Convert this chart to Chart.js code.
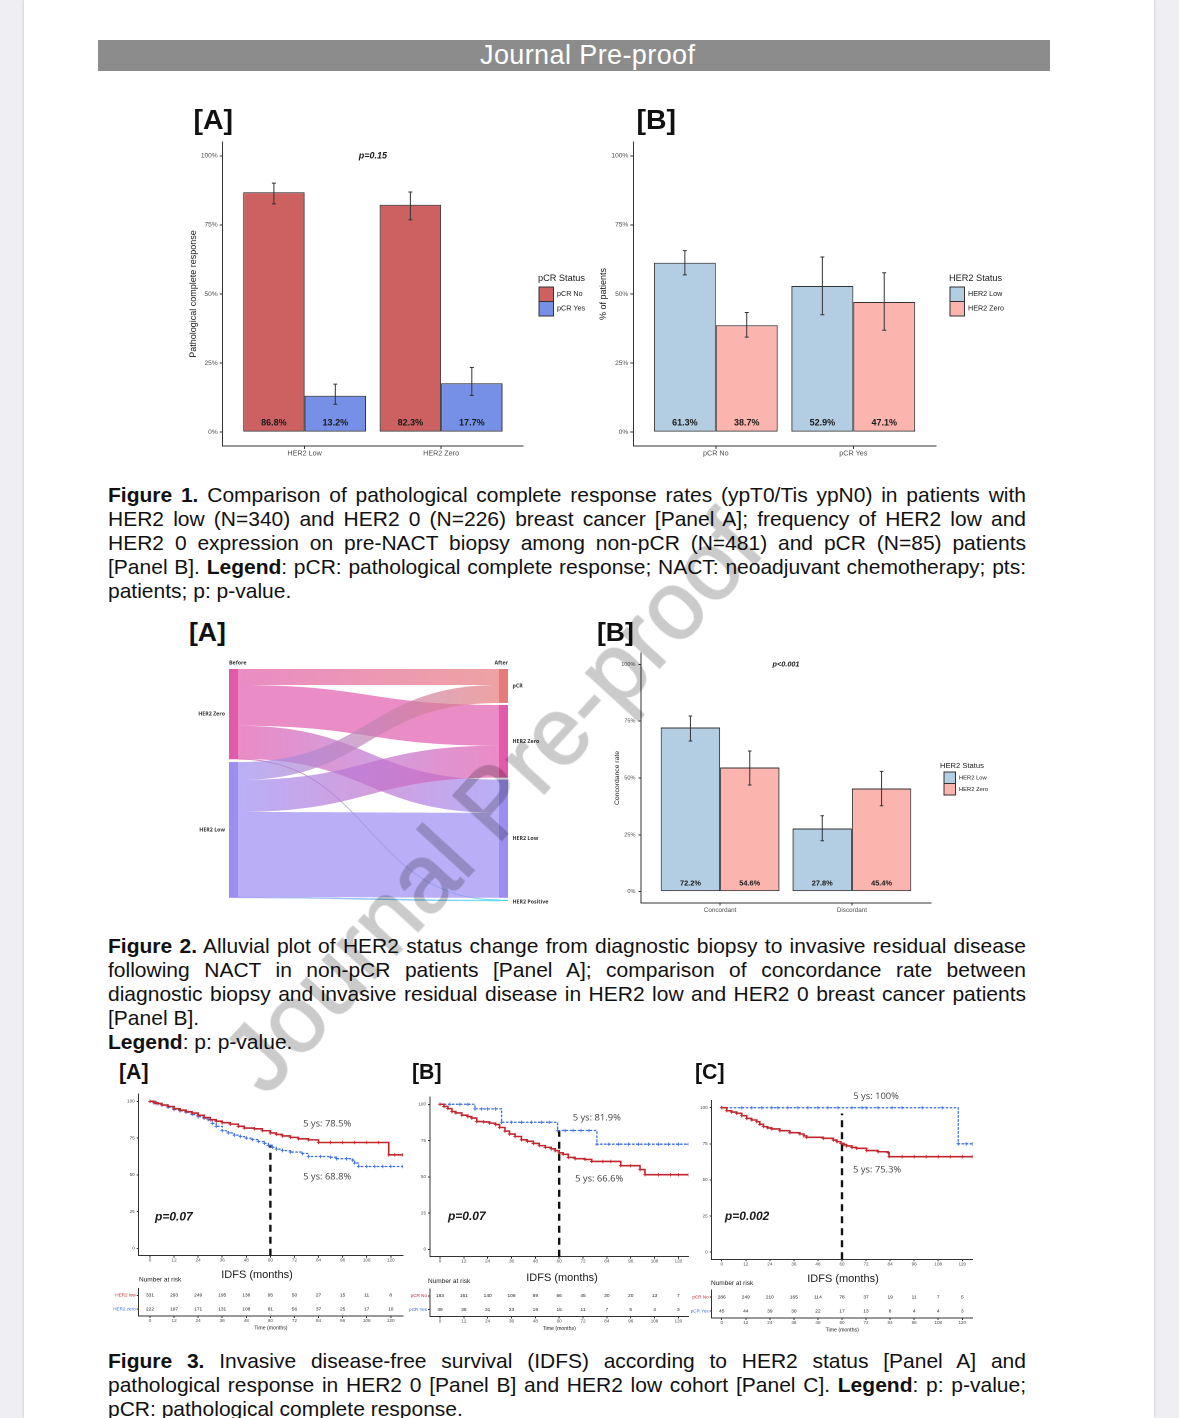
<!DOCTYPE html>
<html>
<head>
<meta charset="utf-8">
<script src="https://cdn.jsdelivr.net/npm/chart.js@4.4.1/dist/chart.umd.min.js"></script>
<style>
html, body { margin: 0; padding: 0; }
body { width: 1179px; height: 1418px; overflow: hidden; position: relative; background: #efeef3;
       font-family: "Liberation Sans", Arial, sans-serif; color: #111; }
#page { position: absolute; left: 24px; top: 0; width: 1130px; height: 1418px; background: #fff;
        box-shadow: 0 0 3px rgba(0,0,0,0.2); }
canvas { position: absolute; }
.hdr { position: absolute; left: 98px; top: 40px; width: 952px; height: 31px; background: #8c8c8c; }
.hdr span { position: absolute; left: 382px; top: 0; font-size: 27px; line-height: 31px; color: #fff; letter-spacing: 0.4px; white-space: nowrap; }
.pl { position: absolute; font-weight: bold; line-height: 1; white-space: nowrap; color: #111; }
.cap { position: absolute; left: 108px; width: 918px; font-size: 21px; line-height: 24px; }
.cap div { white-space: nowrap; }
.cap .j { text-align: justify; text-align-last: justify; }
.wm { position: absolute; left: 492px; top: 802px; font-size: 96px; line-height: 1; white-space: nowrap;
      color: #cbcbcb; -webkit-text-stroke: 1.5px #cbcbcb; mix-blend-mode: multiply;
      transform: translate(-50%, -50%) rotate(-47.5deg); pointer-events: none; }
</style>
</head>
<body>
<div id="page"></div>
<div class="hdr"><span>Journal Pre-proof</span></div>
<div id="charts"></div>

<div class="pl" style="left:193.5px;top:104.7px;font-size:28.5px">[A]</div>
<div class="pl" style="left:636.5px;top:104.7px;font-size:28.5px">[B]</div>

<div class="cap" style="top:482.5px">
<div class="j"><b>Figure 1.</b> Comparison of pathological complete response rates (ypT0/Tis ypN0) in patients with</div>
<div class="j">HER2 low (N=340) and HER2 0 (N=226) breast cancer [Panel A]; frequency of HER2 low and</div>
<div class="j">HER2 0 expression on pre-NACT biopsy among non-pCR (N=481) and pCR (N=85) patients</div>
<div class="j">[Panel B]. <b>Legend</b>: pCR: pathological complete response; NACT: neoadjuvant chemotherapy; pts:</div>
<div>patients; p: p-value.</div>
</div>

<div class="pl" style="left:189px;top:619px;font-size:26.6px">[A]</div>
<div class="pl" style="left:597px;top:619px;font-size:26.6px">[B]</div>

<div class="cap" style="top:934px">
<div class="j"><b>Figure 2.</b> Alluvial plot of HER2 status change from diagnostic biopsy to invasive residual disease</div>
<div class="j">following NACT in non-pCR patients [Panel A]; comparison of concordance rate between</div>
<div class="j">diagnostic biopsy and invasive residual disease in HER2 low and HER2 0 breast cancer patients</div>
<div>[Panel B].</div>
<div><b>Legend</b>: p: p-value.</div>
</div>

<div class="pl" style="left:119px;top:1061.5px;font-size:21.3px">[A]</div>
<div class="pl" style="left:412px;top:1061.5px;font-size:21.3px">[B]</div>
<div class="pl" style="left:695px;top:1061.5px;font-size:21.3px">[C]</div>

<div class="cap" style="top:1349px">
<div class="j"><b>Figure 3.</b> Invasive disease-free survival (IDFS) according to HER2 status [Panel A] and</div>
<div class="j">pathological response in HER2 0 [Panel B] and HER2 low cohort [Panel C]. <b>Legend</b>: p: p-value;</div>
<div>pCR: pathological complete response.</div>
</div>

<div class="wm">Journal Pre-proof</div>

<script>
// ---------- Figure 1 data ----------
const pctTicks = [0, 25, 50, 75, 100];

const f1aCategories = ['HER2 Low', 'HER2 Zero'];
const f1aSeries = ['pCR No', 'pCR Yes'];
const f1aPcrNo = [86.8, 82.3];
const f1aPcrNoLow = [82.6, 76.8];
const f1aPcrNoHigh = [90.1, 86.9];
const f1aPcrYes = [13.2, 17.7];
const f1aPcrYesLow = [10.1, 13.3];
const f1aPcrYesHigh = [17.4, 23.4];

const f1bCategories = ['pCR No', 'pCR Yes'];
const f1bSeries = ['HER2 Low', 'HER2 Zero'];
const f1bLow = [61.3, 52.9];
const f1bLowLow = [56.9, 42.5];
const f1bLowHigh = [65.7, 63.4];
const f1bZero = [38.7, 47.1];
const f1bZeroLow = [34.4, 36.9];
const f1bZeroHigh = [43.3, 57.7];

// ---------- Figure 2 data ----------
const alluvialBefore = ['HER2 Zero', 'HER2 Low'];
const alluvialAfter = ['pCR', 'HER2 Zero', 'HER2 Low', 'HER2 Positive'];
// patients going from each "before" status to each "after" status
const flowsFromZero = [40, 102, 83, 1];
const flowsFromLow = [45, 80, 213, 2];

const f2bCategories = ['Concordant', 'Discordant'];
const f2bSeries = ['HER2 Low', 'HER2 Zero'];
const f2bLow = [72.2, 27.8];
const f2bLowLow = [66.3, 22.4];
const f2bLowHigh = [77.3, 33.4];
const f2bZero = [54.6, 45.4];
const f2bZeroLow = [46.9, 37.8];
const f2bZeroHigh = [61.9, 52.9];

// ---------- Figure 3 data ----------
const kmTicks = [0, 12, 24, 36, 48, 60, 72, 84, 96, 108, 120];
const survTicks = [0, 25, 50, 75, 100];

// [A] HER2 low vs HER2 zero
const kmALowT = [0, 2, 4, 6, 9, 12, 15, 18, 21, 24, 27, 30, 33, 36, 40, 44, 47, 52, 56, 60, 63, 66, 70, 74, 79, 84, 90, 96, 102, 108, 114, 119, 122, 126];
const kmALowS = [100, 99, 98.5, 97.5, 96.5, 95, 94, 93, 92, 90.5, 89, 87.5, 86.5, 85.5, 84.5, 83, 81.8, 81.3, 80, 78.5, 77.5, 76.5, 75.5, 74.5, 73.8, 72, 72, 72, 72, 72, 72, 63.6, 63.6, 63.6];
const kmAZeroT = [0, 3, 6, 9, 12, 15, 18, 21, 24, 27, 29, 31, 33, 36, 39, 42, 45, 48, 51, 54, 57, 59, 61, 63, 66, 70, 76, 79, 85, 90, 93, 98, 101, 102, 104, 108, 112, 116, 120, 126];
const kmAZeroS = [100, 98.5, 97.5, 96, 94.5, 93.5, 92.5, 91, 89.5, 88.5, 87.5, 85, 83, 80, 78.5, 77, 76, 75, 74, 72.7, 71.5, 70, 68.8, 67.5, 66.5, 65.5, 64.5, 62.5, 62.5, 62, 61, 61, 60, 58, 55.7, 55.7, 55.7, 55.7, 55.7, 55.7];
const riskARows = ['HER2 low', 'HER2 zero'];
const riskALow = [331, 293, 249, 195, 136, 95, 50, 27, 15, 11, 8];
const riskAZero = [222, 197, 171, 131, 108, 81, 56, 37, 25, 17, 10];

// [B] HER2 0 cohort, pCR No vs pCR Yes
const kmBNoT = [0, 2, 4, 6, 8, 11, 14, 16, 18.5, 22, 25, 28, 30, 32.7, 35, 37.8, 41, 44, 47, 50, 53, 56, 58, 60, 62, 64.6, 68, 73, 76.4, 82, 86, 91, 96, 100.7, 103.2, 110, 116, 120, 125];
const kmBNoS = [100, 98.5, 97, 95, 94, 92.5, 91.5, 90.5, 88.1, 87.8, 87, 86, 84, 81.5, 79.5, 77.8, 75.5, 74.5, 73, 71.5, 70.3, 69.3, 68, 66.6, 65.5, 63.4, 62.5, 62, 60.6, 60.6, 60.6, 57.7, 57.7, 55, 51.5, 51.5, 51.5, 51.5, 51.5];
const kmBYesT = [0, 5, 10, 14, 17.6, 21, 24, 28, 31, 36, 41, 46, 51, 55, 59.2, 63, 67, 71, 75, 79, 85, 90, 95, 100, 105, 110, 115, 120, 125];
const kmBYesS = [100, 100, 100, 100, 96.8, 96.8, 96.8, 96.8, 87.6, 87.6, 87.6, 87.6, 87.6, 87.6, 81.9, 81.9, 81.9, 81.9, 81.9, 72.5, 72.5, 72.5, 72.5, 72.5, 72.5, 72.5, 72.5, 72.5, 72.5];
const riskBRows = ['pCR No', 'pCR Yes'];
const riskBNo = [183, 161, 140, 108, 89, 66, 45, 30, 20, 13, 7];
const riskBYes = [39, 36, 31, 23, 19, 15, 11, 7, 5, 4, 3];

// [C] HER2 low cohort, pCR No vs pCR Yes
const kmCNoT = [0, 2.5, 5, 7.5, 10, 12.5, 15, 17.5, 19, 20.8, 23, 25, 29, 34, 39, 41, 42.4, 50.7, 55.7, 57.5, 59.5, 61, 62.3, 65, 67.3, 72.3, 78, 83, 83.5, 90, 96, 102, 108, 114, 120, 125];
const kmCNoS = [100, 97.9, 97, 96.1, 94.5, 92.6, 91.5, 90.3, 88.5, 86.9, 86, 85.3, 84.1, 82.7, 81.8, 80.5, 79.5, 78.8, 77.6, 76.5, 75.3, 74.5, 73.5, 72.5, 71.9, 70.3, 69.5, 68.9, 66.1, 66.1, 66.1, 66.1, 66.1, 66.1, 66.1, 66.1];
const kmCYesT = [0, 10, 15, 20, 25, 28, 33, 38, 43, 48, 53, 58, 65, 70, 72, 78, 85, 90, 100, 110, 118, 122, 125];
const kmCYesS = [100, 100, 100, 100, 100, 100, 100, 100, 100, 100, 100, 100, 100, 100, 100, 100, 100, 100, 100, 100, 75, 75, 75];
const riskCRows = ['pCR No', 'pCR Yes'];
const riskCNo = [286, 249, 210, 165, 114, 78, 37, 19, 11, 7, 5];
const riskCYes = [45, 44, 39, 30, 22, 17, 13, 8, 4, 4, 3];

// ---------- helpers ----------
Chart.defaults.font.family = '"Liberation Sans", Arial, sans-serif';
Chart.defaults.animation = false;
Chart.defaults.events = [];
Chart.defaults.plugins.legend.display = false;
Chart.defaults.plugins.tooltip.enabled = false;

const AXIS = '#333';
const TICKTXT = '#4d4d4d';
const KM_RED = '#c0262d';
const KM_BLUE = '#3d6fe0';

function mk(left, top, w, h) {
  const c = document.createElement('canvas');
  c.width = w; c.height = h;
  c.style.left = left + 'px'; c.style.top = top + 'px';
  c.style.width = w + 'px'; c.style.height = h + 'px';
  document.getElementById('charts').appendChild(c);
  return c;
}

function pad(g) {
  return { left: 0, top: g.T - g.ct, right: g.cl + g.cw - g.R, bottom: 0 };
}

// error bars, value labels, p-value and legend for the ggplot-like bar panels
function barExtras(g, cfg) {
  return {
    id: 'barExtras',
    afterDatasetsDraw(chart) {
      const { ctx } = chart;
      const xs = chart.scales.x, ys = chart.scales.y;
      ctx.save();
      chart.data.datasets.forEach((ds, k) => {
        chart.getDatasetMeta(k).data.forEach((bar, i) => {
          const yl = ys.getPixelForValue(cfg.low[k][i]);
          const yh = ys.getPixelForValue(cfg.high[k][i]);
          ctx.strokeStyle = AXIS; ctx.lineWidth = 1;
          ctx.beginPath();
          ctx.moveTo(bar.x, yl); ctx.lineTo(bar.x, yh);
          ctx.moveTo(bar.x - cfg.cap, yl); ctx.lineTo(bar.x + cfg.cap, yl);
          ctx.moveTo(bar.x - cfg.cap, yh); ctx.lineTo(bar.x + cfg.cap, yh);
          ctx.stroke();
          ctx.fillStyle = '#1a1a1a';
          ctx.font = 'bold ' + cfg.labelSize + 'px "Liberation Sans"';
          ctx.textAlign = 'center'; ctx.textBaseline = 'middle';
          ctx.fillText(ds.data[i].y.toFixed(1) + '%', bar.x, ys.getPixelForValue(cfg.labelAt));
        });
      });
      if (cfg.p) {
        ctx.fillStyle = '#1a1a1a';
        ctx.font = 'italic bold ' + cfg.pSize + 'px "Liberation Sans"';
        ctx.textAlign = 'center'; ctx.textBaseline = 'middle';
        ctx.fillText(cfg.p, xs.getPixelForValue(1.5), ys.getPixelForValue(100));
      }
      const L = cfg.legend;
      ctx.textAlign = 'left'; ctx.textBaseline = 'middle';
      ctx.fillStyle = '#1a1a1a';
      ctx.font = L.titleSize + 'px "Liberation Sans"';
      ctx.fillText(L.title, L.tx - g.cl, L.ty - g.ct);
      chart.data.datasets.forEach((ds, k) => {
        const kx = L.kx - g.cl, ky = L.ky - g.ct + k * L.key;
        ctx.fillStyle = ds.backgroundColor;
        ctx.fillRect(kx, ky, L.key, L.key);
        ctx.strokeStyle = AXIS; ctx.lineWidth = 1;
        ctx.strokeRect(kx, ky, L.key, L.key);
        ctx.fillStyle = '#1a1a1a';
        ctx.font = L.labelSize + 'px "Liberation Sans"';
        ctx.fillText(ds.label, L.lx - g.cl, ky + L.key / 2);
      });
      ctx.restore();
    }
  };
}

function barPanel(g, categories, series, values, colors, yTitle, cfg) {
  new Chart(mk(g.cl, g.ct, g.cw, g.ch), {
    type: 'bar',
    data: {
      datasets: series.map((name, k) => ({
        label: name,
        data: categories.map((c, i) => ({ x: i + 1, y: values[k][i] })),
        backgroundColor: colors[k],
        borderColor: AXIS,
        borderWidth: 1,
        borderSkipped: false,
        categoryPercentage: 0.9,
        barPercentage: 1
      }))
    },
    options: {
      responsive: false,
      devicePixelRatio: 2,
      layout: { padding: pad(g) },
      scales: {
        x: {
          type: 'linear', min: 0.4, max: categories.length + 0.6, offset: false,
          afterBuildTicks: s => { s.ticks = categories.map((c, i) => ({ value: i + 1 })); },
          afterFit: s => { s.height = g.ct + g.ch - g.B; },
          ticks: { callback: v => categories[v - 1], font: { size: g.fx }, color: TICKTXT, padding: g.xpad, maxRotation: 0, autoSkip: false },
          grid: { offset: false, drawOnChartArea: false, tickLength: g.tl, tickColor: AXIS },
          border: { color: AXIS, width: 1 }
        },
        y: {
          min: -5, max: 105,
          afterBuildTicks: s => { s.ticks = pctTicks.map(v => ({ value: v })); },
          afterFit: s => { s.width = g.L - g.cl; },
          ticks: { callback: v => v + '%', font: { size: g.fy }, color: TICKTXT, padding: g.ypad },
          title: { display: true, text: yTitle, font: { size: g.ft }, color: '#1a1a1a', padding: 0 },
          grid: { drawOnChartArea: false, tickLength: g.tl, tickColor: AXIS },
          border: { color: AXIS, width: 1 }
        }
      }
    },
    plugins: [barExtras(g, cfg)]
  });
}

// ---------- Figure 1 [A] ----------
const g1a = { cl: 188, ct: 132, cw: 412, ch: 332, L: 222.7, R: 523, T: 142, B: 446,
              fx: 7.2, fy: 6.6, ft: 9, tl: 3, xpad: 0, ypad: 2 };
barPanel(g1a, f1aCategories, f1aSeries, [f1aPcrNo, f1aPcrYes], ['#cd6161', '#7590e6'],
  'Pathological complete response', {
    low: [f1aPcrNoLow, f1aPcrYesLow], high: [f1aPcrNoHigh, f1aPcrYesHigh],
    cap: 2, labelSize: 9, labelAt: 3.3, p: 'p=0.15', pSize: 9,
    legend: { title: 'pCR Status', titleSize: 9.2, labelSize: 7.2, tx: 538, ty: 278.3, kx: 539, ky: 287, key: 14.5, lx: 557 }
  });

// ---------- Figure 1 [B] ----------
const g1b = { cl: 598, ct: 132, cw: 422, ch: 332, L: 633.3, R: 935.8, T: 142, B: 446,
              fx: 7.2, fy: 6.6, ft: 9, tl: 3, xpad: 0, ypad: 2 };
barPanel(g1b, f1bCategories, f1bSeries, [f1bLow, f1bZero], ['#b3cde3', '#fbb4ae'],
  '% of patients', {
    low: [f1bLowLow, f1bZeroLow], high: [f1bLowHigh, f1bZeroHigh],
    cap: 2, labelSize: 9, labelAt: 3.3, p: null,
    legend: { title: 'HER2 Status', titleSize: 9.2, labelSize: 7.2, tx: 949, ty: 278.3, kx: 950, ky: 287, key: 14.5, lx: 968 }
  });

// ---------- Figure 2 [A] alluvial ----------
const alluvialNodeColors = { left: ['#e15aac', '#9c8df2'], right: ['#e67b7b', '#e15aac', '#9c8df2', '#45d3ee'] };
const alluvialPlugin = {
  id: 'alluvial',
  afterDraw(chart) {
    const { ctx } = chart;
    const xs = chart.scales.x, ys = chart.scales.y;
    const flows = [flowsFromZero, flowsFromLow];
    const leftTot = flows.map(r => r.reduce((a, b) => a + b, 0));
    const rightTot = alluvialAfter.map((_, j) => flows.reduce((a, r) => a + r[j], 0));
    const span = (tots, gap) => { let acc = 0; return tots.map(t => { const s = [acc, acc + t]; acc += t + gap; return s; }); };
    const Ls = span(leftTot, 7), Rs = span(rightTot, 5);
    const nodeW = 0.0323;
    const x0 = xs.getPixelForValue(0), x1 = xs.getPixelForValue(nodeW);
    const x2 = xs.getPixelForValue(1 - nodeW), x3 = xs.getPixelForValue(1);
    const mx = (x1 + x2) / 2;
    const lOff = Ls.map(s => s[0]), rOff = Rs.map(s => s[0]);
    ctx.save();
    flows.forEach((row, i) => {
      row.forEach((v, j) => {
        if (!v) return;
        const a0 = ys.getPixelForValue(lOff[i]), a1 = ys.getPixelForValue(lOff[i] + v);
        const b0 = ys.getPixelForValue(rOff[j]), b1 = ys.getPixelForValue(rOff[j] + v);
        lOff[i] += v; rOff[j] += v;
        const grad = ctx.createLinearGradient(x1, 0, x2, 0);
        grad.addColorStop(0, alluvialNodeColors.left[i]);
        grad.addColorStop(1, alluvialNodeColors.right[j]);
        ctx.globalAlpha = 0.7;
        ctx.fillStyle = grad;
        ctx.beginPath();
        ctx.moveTo(x1, a0);
        ctx.bezierCurveTo(mx, a0, mx, b0, x2, b0);
        ctx.lineTo(x2, b1);
        ctx.bezierCurveTo(mx, b1, mx, a1, x1, a1);
        ctx.closePath();
        ctx.fill();
        if (v < 3) { ctx.strokeStyle = grad; ctx.lineWidth = 0.6; ctx.stroke(); }
      });
    });
    ctx.globalAlpha = 1;
    ctx.font = 'bold 5.3px "Open Sans"';
    ctx.fillStyle = '#333';
    ctx.textBaseline = 'middle';
    Ls.forEach((s, i) => {
      const y0 = ys.getPixelForValue(s[0]), y1 = ys.getPixelForValue(s[1]);
      ctx.fillStyle = alluvialNodeColors.left[i];
      ctx.fillRect(x0, y0, x1 - x0, y1 - y0);
      ctx.fillStyle = '#333'; ctx.textAlign = 'right';
      ctx.fillText(alluvialBefore[i], x0 - 4, (y0 + y1) / 2);
    });
    Rs.forEach((s, j) => {
      const y0 = ys.getPixelForValue(s[0]), y1 = Math.max(ys.getPixelForValue(s[1]), y0 + 1.2);
      ctx.fillStyle = alluvialNodeColors.right[j];
      ctx.fillRect(x2, y0, x3 - x2, y1 - y0);
      ctx.fillStyle = '#333'; ctx.textAlign = 'left';
      ctx.fillText(alluvialAfter[j], x3 + 4.5, (y0 + y1) / 2 + (j === alluvialAfter.length - 1 ? 1.5 : 0));
    });
    ctx.textAlign = 'left';
    ctx.fillText('Before', x0, chart.chartArea.top - 6);
    ctx.textAlign = 'right';
    ctx.fillText('After', x3, chart.chartArea.top - 6);
    ctx.restore();
  }
};
new Chart(mk(180, 650, 400, 265), {
  type: 'scatter',
  data: { datasets: [] },
  options: {
    responsive: false,
    devicePixelRatio: 2,
    layout: { padding: { left: 49, right: 72, top: 19, bottom: 14 } },
    scales: {
      x: { display: false, min: 0, max: 1 },
      y: { display: false, min: 0, max: 581, reverse: true }
    }
  },
  plugins: [alluvialPlugin]
});

// ---------- Figure 2 [B] ----------
const g2b = { cl: 613, ct: 645, cw: 392, ch: 275, L: 641, R: 931, T: 653, B: 903,
              fx: 6.3, fy: 5.6, ft: 6.8, tl: 2.5, xpad: 1, ypad: 3 };
barPanel(g2b, f2bCategories, f2bSeries, [f2bLow, f2bZero], ['#b3cde3', '#fbb4ae'],
  'Concordance rate', {
    low: [f2bLowLow, f2bZeroLow], high: [f2bLowHigh, f2bZeroHigh],
    cap: 1.8, labelSize: 7.4, labelAt: 3.7, p: 'p<0.001', pSize: 7.3,
    legend: { title: 'HER2 Status', titleSize: 7.6, labelSize: 5.8, tx: 940, ty: 766, kx: 944, ky: 772, key: 11.5, lx: 959 }
  });

// ---------- Figure 3 : Kaplan-Meier panels ----------
function notesPlugin(g, notes) {
  return {
    id: 'notes',
    afterDraw(chart) {
      const { ctx } = chart;
      const xs = chart.scales.x, ys = chart.scales.y;
      ctx.save();
      notes.forEach(n => {
        ctx.font = n.font;
        ctx.fillStyle = n.color || '#1a1a1a';
        ctx.textAlign = n.align || 'left';
        ctx.textBaseline = 'middle';
        const px = n.data ? xs.getPixelForValue(n.x) : n.x - g.cl;
        const py = n.data ? ys.getPixelForValue(n.y) : n.y - g.ct;
        ctx.fillText(n.text, px, py);
      });
      ctx.restore();
    }
  };
}

function kmPanel(g, curves, vTop, notes) {
  const datasets = curves.map(c => ({
    data: c.t.map((t, i) => ({ x: t, y: c.s[i] })),
    stepped: 'before',
    borderColor: c.color,
    borderWidth: c.width,
    borderDash: c.dash,
    pointStyle: 'cross',
    pointRadius: 1.8,
    pointBorderWidth: 0.8,
    pointBorderColor: c.color,
    fill: false
  }));
  datasets.push({
    data: [{ x: 60, y: -5 }, { x: 60, y: vTop }],
    borderColor: '#111', borderWidth: 2.4, borderDash: [7, 5], pointRadius: 0, fill: false
  });
  new Chart(mk(g.cl, g.ct, g.cw, g.ch), {
    type: 'line',
    data: { datasets },
    options: {
      responsive: false,
      devicePixelRatio: 2,
      layout: { padding: pad(g) },
      scales: {
        x: {
          type: 'linear', min: g.xMin, max: g.xMax,
          afterBuildTicks: s => { s.ticks = kmTicks.map(v => ({ value: v })); },
          afterFit: s => { s.height = g.ct + g.ch - g.B; },
          ticks: { font: { size: 4.6 }, color: TICKTXT, padding: 0, maxRotation: 0, autoSkip: false },
          grid: { drawOnChartArea: false, tickLength: 2, tickColor: AXIS },
          border: { color: AXIS, width: 1 }
        },
        y: {
          min: -5, max: 105,
          afterBuildTicks: s => { s.ticks = survTicks.map(v => ({ value: v })); },
          afterFit: s => { s.width = g.L - g.cl; },
          ticks: { font: { size: 4.6 }, color: TICKTXT, padding: 2 },
          grid: { drawOnChartArea: false, tickLength: 2, tickColor: AXIS },
          border: { color: AXIS, width: 1 }
        }
      }
    },
    plugins: [notesPlugin(g, notes)]
  });
}

function riskPanel(g, rows, counts, notes) {
  const rowColors = [KM_RED, KM_BLUE];
  const riskText = {
    id: 'riskText',
    afterDatasetsDraw(chart) {
      const { ctx } = chart;
      ctx.save();
      ctx.font = '4.8px "Liberation Sans"';
      ctx.fillStyle = '#222';
      ctx.textAlign = 'center'; ctx.textBaseline = 'middle';
      chart.data.datasets.forEach((ds, k) => {
        chart.getDatasetMeta(k).data.forEach((pt, i) => ctx.fillText(String(ds.data[i].n), pt.x, pt.y));
      });
      ctx.restore();
    }
  };
  new Chart(mk(g.cl, g.ct, g.cw, g.ch), {
    type: 'scatter',
    data: {
      datasets: rows.map((r, k) => ({
        data: kmTicks.map((t, i) => ({ x: t, y: r, n: counts[k][i] })),
        pointRadius: 0
      }))
    },
    options: {
      responsive: false,
      devicePixelRatio: 2,
      layout: { padding: pad(g) },
      scales: {
        x: {
          type: 'linear', min: g.xMin, max: g.xMax,
          afterBuildTicks: s => { s.ticks = kmTicks.map(v => ({ value: v })); },
          afterFit: s => { s.height = g.ct + g.ch - g.B; },
          ticks: { font: { size: 4.6 }, color: TICKTXT, padding: 0, maxRotation: 0, autoSkip: false },
          grid: { drawOnChartArea: false, tickLength: 2, tickColor: AXIS },
          border: { color: AXIS, width: 1 }
        },
        y: {
          type: 'category', labels: rows, offset: true,
          afterFit: s => { s.width = g.L - g.cl; },
          ticks: { font: { size: 4.6 }, color: c => rowColors[c.index], padding: 1 },
          grid: { drawOnChartArea: false, tickLength: 2, tickColor: AXIS },
          border: { color: AXIS, width: 1 }
        }
      }
    },
    plugins: [riskText, notesPlugin(g, notes)]
  });
}

const fiveYs = '9.4px "Open Sans"';
const pFont = 'italic bold 12px "Liberation Sans"';
const idfsFont = '11px "Liberation Sans"';
const tableTitle = '6.5px "Liberation Sans"';
const timeTitle = '5.2px "Liberation Sans"';

// [A]
kmPanel({ cl: 112, ct: 1086, cw: 298, ch: 200, L: 138.7, R: 403, T: 1094, B: 1255.7, xMin: -5.63, xMax: 126.1 },
  [{ t: kmALowT, s: kmALowS, color: KM_RED, dash: [], width: 1.6 },
   { t: kmAZeroT, s: kmAZeroS, color: KM_BLUE, dash: [2.5, 1.5], width: 1.3 }],
  70.5,
  [{ text: '5 ys: 78.5%', x: 76.3, y: 84.8, data: true, font: fiveYs, color: '#444' },
   { text: '5 ys: 68.8%', x: 76.3, y: 48.6, data: true, font: fiveYs, color: '#444' },
   { text: 'p=0.07', x: 2.5, y: 21.3, data: true, font: pFont },
   { text: 'IDFS (months)', x: 257, y: 1275, align: 'center', font: idfsFont }]);
riskPanel({ cl: 100, ct: 1272, cw: 310, ch: 62, L: 138.7, R: 403, T: 1288.5, B: 1316, xMin: -5.63, xMax: 126.1 },
  riskARows, [riskALow, riskAZero],
  [{ text: 'Number at risk', x: 139, y: 1279.5, font: tableTitle },
   { text: 'Time (months)', x: 270.9, y: 1328, align: 'center', font: timeTitle }]);

// [B]
kmPanel({ cl: 405, ct: 1086, cw: 290, ch: 200, L: 430, R: 688.3, T: 1097, B: 1256.7, xMin: -5.03, xMax: 125 },
  [{ t: kmBNoT, s: kmBNoS, color: KM_RED, dash: [], width: 1.6 },
   { t: kmBYesT, s: kmBYesS, color: KM_BLUE, dash: [2.5, 1.5], width: 1.3 }],
  81.5,
  [{ text: '5 ys: 81.9%', x: 66.8, y: 90.8, data: true, font: fiveYs, color: '#444' },
   { text: '5 ys: 66.6%', x: 68, y: 48.7, data: true, font: fiveYs, color: '#444' },
   { text: 'p=0.07', x: 4, y: 22.6, data: true, font: pFont },
   { text: 'IDFS (months)', x: 562, y: 1278, align: 'center', font: idfsFont }]);
riskPanel({ cl: 398, ct: 1272, cw: 297, ch: 62, L: 430, R: 688.3, T: 1289, B: 1316.5, xMin: -5.03, xMax: 125 },
  riskBRows, [riskBNo, riskBYes],
  [{ text: 'Number at risk', x: 428, y: 1281, font: tableTitle },
   { text: 'Time (months)', x: 559.2, y: 1328.5, align: 'center', font: timeTitle }]);

// [C]
kmPanel({ cl: 690, ct: 1086, cw: 290, ch: 200, L: 711.7, R: 972.7, T: 1100.5, B: 1259.3, xMin: -5, xMax: 125.2 },
  [{ t: kmCNoT, s: kmCNoS, color: KM_RED, dash: [], width: 1.6 },
   { t: kmCYesT, s: kmCYesS, color: KM_BLUE, dash: [2.5, 1.5], width: 1.3 }],
  96,
  [{ text: '5 ys: 100%', x: 65.6, y: 108, data: true, font: fiveYs, color: '#444' },
   { text: '5 ys: 75.3%', x: 65.5, y: 56.9, data: true, font: fiveYs, color: '#444' },
   { text: 'p=0.002', x: 1.6, y: 24.4, data: true, font: pFont },
   { text: 'IDFS (months)', x: 843, y: 1279, align: 'center', font: idfsFont }]);
riskPanel({ cl: 680, ct: 1272, cw: 300, ch: 62, L: 711.7, R: 972.7, T: 1290, B: 1318, xMin: -5, xMax: 125.2 },
  riskCRows, [riskCNo, riskCYes],
  [{ text: 'Number at risk', x: 711, y: 1283, font: tableTitle },
   { text: 'Time (months)', x: 842.2, y: 1330, align: 'center', font: timeTitle }]);
</script>
</body>
</html>
